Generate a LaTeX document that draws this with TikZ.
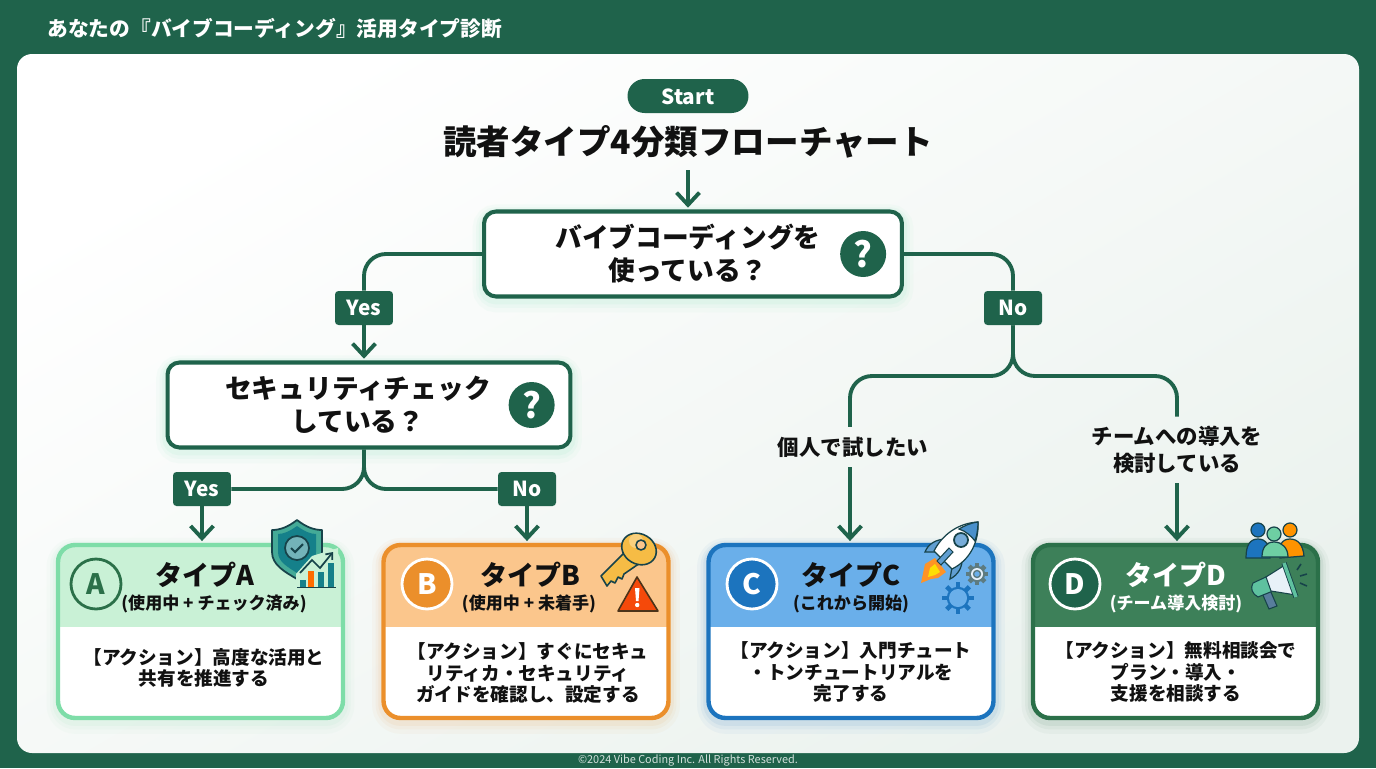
\documentclass[tikz,border=0pt]{standalone}
\usepackage{fontspec}
\setmainfont{Noto Sans CJK JP}
\usetikzlibrary{arrows.meta,calc,positioning}
\definecolor{deep}{HTML}{1F634B}
\definecolor{ink}{HTML}{111111}
\definecolor{panelend}{HTML}{EBF2EE}
\definecolor{glowg}{HTML}{5FE0A8}
\definecolor{bordera}{HTML}{7EDDA8}
\definecolor{heada}{HTML}{C9F1D6}
\definecolor{borderb}{HTML}{EB8F2B}
\definecolor{headb}{HTML}{FBC68C}
\definecolor{borderc}{HTML}{1C74BE}
\definecolor{headc}{HTML}{6AAFEA}
\definecolor{borderd}{HTML}{2B7049}
\definecolor{headd}{HTML}{3D8059}
\definecolor{outl}{HTML}{17434A}
\definecolor{teal}{HTML}{15808A}
\definecolor{gold}{HTML}{F6BC45}
\newcommand{\gearsize}{16}
\tikzset{
    >={Straight Barb[length=7pt,width=13pt,line width=2.2pt]},
    glow/.style={
           preaction={draw=#1, draw opacity=.04, line width=13pt, transform canvas={yshift=-2.5pt}},
           preaction={draw=#1, draw opacity=.05, line width=9pt, transform canvas={yshift=-2pt}},
           preaction={draw=#1, draw opacity=.07, line width=6pt, transform canvas={yshift=-1.5pt}}},
    qbox/.style={
           rectangle,
           rounded corners=.24cm,
           draw=deep, line width=2.3pt,
           fill=white,
           glow=glowg},
    qtext/.style={
           align=center,
           text=ink,
           font=\bfseries\fontsize{15.2}{18.8}\selectfont},
    qmark/.style={
           circle,
           fill=deep,
           minimum size=.92cm,
           inner sep=0pt,
           text=white,
           font=\bfseries\fontsize{20}{20}\selectfont},
    tagbox/.style={
           rectangle,
           rounded corners=.07cm,
           fill=deep,
           minimum width=1.16cm,
           minimum height=.68cm,
           inner sep=0pt,
           text=white,
           font=\bfseries\fontsize{11.8}{13}\selectfont},
    wire/.style={
           draw=deep,
           line width=2.2pt,
           rounded corners=.44cm},
    pil/.style={
           ->,
           draw=deep,
           line width=2.2pt,
           shorten >=1pt},
    side/.style={
           align=center,
           inner sep=0pt,
           outer sep=.2cm,
           text=ink,
           font=\bfseries\fontsize{12.2}{15}\selectfont},
    typecard/.style 2 args={
           rectangle,
           rounded corners=.34cm,
           draw=#1, line width=2.5pt,
           fill=white,
           minimum width=5.7cm,
           minimum height=3.46cm,
           glow=#1,
           path picture={\fill[#2, sharp corners] (path picture bounding box.north west) rectangle ([yshift=-1.64cm]path picture bounding box.north east);}},
    badge/.style 2 args={
           circle,
           fill=#1,
           draw=#2, line width=1.6pt,
           minimum size=1cm,
           inner sep=0pt,
           font=\bfseries\fontsize{16}{16}\selectfont},
    cardtitle/.style={
           font=\bfseries\fontsize{15.4}{18}\selectfont,
           inner sep=0pt,
           text=ink},
    cardsub/.style={
           font=\bfseries\fontsize{9.7}{11}\selectfont,
           inner sep=0pt,
           text=ink},
    cardbody/.style={
           align=center,
           inner sep=0pt,
           text=ink,
           font=\bfseries\fontsize{10.6}{12.4}\selectfont},
    iconline/.style={
           draw=outl,
           line width=.7pt,
           line join=round},
    pics/gearicon/.style={code={
           \foreach \a in {0,45,...,315}
               \draw[draw=#1, line width=2.6pt] (\a:.62*\gearsize) -- (\a:\gearsize);
           \draw[draw=#1, line width=1.5pt] (0,0) circle[radius=.62*\gearsize];
    }}
}
\begin{document}
\begin{tikzpicture}[x=.02cm, y=-.02cm]
    \useasboundingbox (0,0) rectangle (1376,768);
    \fill[deep] (0,0) rectangle (1376,768);
    \shade[rounded corners=.3cm, top color=white, bottom color=panelend, shading angle=30]
        (17,54) rectangle (1359,753);

    \node[text=white, anchor=west, inner sep=0pt, font=\bfseries\fontsize{11.8}{14}\selectfont] (head) at (47,28)
        {あなたの『バイブコーディング』活用タイプ診断};
    \node[text=white!80!deep, inner sep=0pt, font=\fontsize{6.2}{7}\selectfont] (foot) at (688,761)
        {©2024 Vibe Coding Inc. All Rights Reserved.};

    % top of the chart
    \node[rectangle, rounded corners=.34cm, fill=deep, minimum width=2.42cm, minimum height=.68cm, inner sep=0pt,
        text height=9.5pt, text depth=0pt,
        text=white, font=\bfseries\fontsize{11.8}{13}\selectfont] (start) at (688,96) {Start};
    \node[text=ink, inner sep=0pt, font=\bfseries\fontsize{19.1}{22}\selectfont] (title) at (688,142)
        {読者タイプ4分類フローチャート};

    \node[qbox, minimum width=8.36cm, minimum height=1.7cm] (q1) at (693,254) {};
    \node[qtext, xshift=-.1cm] (q1text) at (q1) {バイブコーディングを\\使っている？};
    \node[qmark, left=.35cm of q1.east] (q1mark) {?};

    \node[qbox, minimum width=8.06cm, minimum height=1.7cm] (q2) at (369,405) {};
    \node[qtext, xshift=-.22cm] (q2text) at (q2) {セキュリティチェック\\している？};
    \node[qmark, left=.35cm of q2.east] (q2mark) {?};

    \node[tagbox] (yes1) at (364,308) {Yes};
    \node[tagbox] (no1) at (1013,308) {No};
    \node[tagbox] (yes2) at (202,489) {Yes};
    \node[tagbox] (no2) at (527,489) {No};

    \node[side] (solo) at (853,447) {個人で試したい};
    \node[side] (team) at (1177,450) {チームへの導入を\\検討している};

    \node[typecard={bordera}{heada}] (carda) at (200.5,631.5) {};
    \node[typecard={borderb}{headb}] (cardb) at (526,631.5) {};
    \node[typecard={borderc}{headc}] (cardc) at (851,631.5) {};
    \node[typecard={borderd}{headd}] (cardd) at (1175.5,631.5) {};

    \coordinate (splita) at (364,489);
    \coordinate (splitb) at (1013,376);
    \coordinate (titlefoot) at (688,170);
    \coordinate (solox) at (850,447);

    \draw[pil] (titlefoot) -- (titlefoot |- q1.north);
    \draw[wire] (q1.west) -| (yes1.north);
    \draw[wire] (q1.east) -| (no1.north);
    \draw[pil] (yes1.south) -- (yes1 |- q2.north);

    \draw[wire] (splita |- q2.south) -- (splita) -- (yes2.east);
    \draw[wire] (splita |- q2.south) -- (splita) -- (no2.west);
    \draw[pil] (yes2.south) -- (yes2 |- carda.north);
    \draw[pil] (no2.south) -- (no2 |- cardb.north);

    \draw[wire] (no1.south) -- (splitb) -| (solox |- solo.north);
    \draw[wire] (no1.south) -- (splitb) -| (team.north);
    \draw[pil] (solox |- solo.south) -- (solox |- cardc.north);
    \draw[pil] (team.south) -- (team |- cardd.north);

    % type A
    \node[badge={heada}{borderd}, text=borderd] (mara) at (96,584) {A};
    \node[cardtitle] (titlea) at (205,575) {タイプA};
    \node[cardsub] (suba) at (214,604) {(使用中 + チェック済み)};
    \node[cardbody] (bodya) at (204,668) {【アクション】高度な活用と\\共有を推進する};

    % type B
    \node[badge={borderb}{white}, text=white] (marb) at (427,584) {B};
    \node[cardtitle] (titleb) at (530,575) {タイプB};
    \node[cardsub] (subb) at (529,604) {(使用中 + 未着手)};
    \node[cardbody] (bodyb) at (528,673) {【アクション】すぐにセキュ\\リティカ・セキュリティ\\ガイドを確認し、設定する};

    % type C
    \node[badge={borderc}{white}, text=white] (marc) at (752,584) {C};
    \node[cardtitle] (titlec) at (851,575) {タイプC};
    \node[cardsub] (subc) at (851,604) {(これから開始)};
    \node[cardbody] (bodyc) at (851,672) {【アクション】入門チュート\\・トンチュートリアルを\\完了する};

    % type D
    \node[badge={deep}{white}, text=white] (mard) at (1075,584) {D};
    \node[cardtitle, text=white] (titled) at (1176,575) {タイプD};
    \node[cardsub, text=white] (subd) at (1176,604) {(チーム導入検討)};
    \node[cardbody] (bodyd) at (1176,672) {【アクション】無料相談会で\\プラン・導入・\\支援を相談する};

    % shield and chart
    \draw[iconline, fill=teal!55!bordera, line width=1pt] (297,520) .. controls (288,527) and (280,530) .. (272,530) -- (272,552)
        .. controls (272,565) and (285,572) .. (297,579) .. controls (309,572) and (322,565) .. (322,552) -- (322,530)
        .. controls (314,530) and (306,527) .. cycle;
    \fill[teal] (297,526) .. controls (290,531) and (284,534) .. (278,534) -- (278,552)
        .. controls (278,562) and (288,567) .. (297,573) .. controls (306,567) and (316,562) .. (316,552) -- (316,534)
        .. controls (310,534) and (304,531) .. cycle;
    \draw[iconline, fill=teal!60!white, line width=1pt] (297,548) circle[radius=12];
    \draw[outl, line width=1.2pt] (291,548) -- (295,552) -- (303,544);
    \fill[heada] (296,588) -- (296,574) -- (312,556) -- (338,548) -- (338,590) -- cycle;
    \fill[teal] (300,580) rectangle (306,587);
    \fill[orange!85!red] (308,571) rectangle (314,587);
    \fill[teal] (318,572) rectangle (324,587);
    \fill[teal] (328,563) rectangle (334,587);
    \draw[outl, line width=1pt] (297,587.5) -- (336,587.5);
    \draw[outl, line width=1pt, -{Straight Barb[length=3pt,width=5pt]}] (300,573) -- (312,560) -- (320,568) -- (333,552);

    % key and warning
    \draw[iconline, fill=gold, line width=.9pt] (601,576) -- (625,552) -- (640,563) -- (624,574) -- (622,579) -- (618,577)
        -- (615,583) -- (611,581) -- (607,586) -- cycle;
    \draw[iconline, fill=gold, line width=.9pt] (639,549) circle[x radius=18, y radius=15, rotate=-30];
    \fill[gold!70!white] (636,541) circle[radius=7];
    \draw[iconline, fill=headb, line width=.9pt] (641,545) circle[radius=5];
    \draw[draw=black!60!brown, fill=red!50!orange!85!brown, line width=.9pt, line join=round] (637,577) -- (618,611) -- (658,611) -- cycle;
    \fill[white] (635,588) -- (639.5,588) -- (638.5,601) -- (636,601) -- cycle;
    \fill[white] (637.2,605) circle[radius=2.2];

    % rocket and gears
    \draw[outl, fill=borderc!70!white, line width=.7pt] (937,552) -- (925,552) .. controls (928,544) and (936,539) .. (947,539) -- cycle;
    \draw[outl, fill=borderc!70!white, line width=.7pt] (952,567) -- (950,579) .. controls (958,575) and (963,567) .. (962,557) -- cycle;
    \fill[orange!85!white] (921,583) -- (925,564) -- (935,558) -- (946,572) -- (938,578) -- (931,579) -- cycle;
    \fill[yellow!80!orange] (928,577) -- (930,568) -- (935,564) -- (940,572) -- (935,575) -- cycle;
    \draw[iconline, fill=white] (978,522) .. controls (958,523) and (942,535) .. (934,551) -- (952,569) .. controls (970,560) and (979,542) .. cycle;
    \draw[outl, fill=borderc!80!white, line width=.7pt] (978,522) .. controls (970,523) and (964,526) .. (959,529) .. controls (966,531) and (972,537) .. (975,541) .. controls (977,535) and (978,529) .. cycle;
    \draw[iconline, fill=borderc!60!white, line width=1pt] (961,540) circle[radius=7];
    \draw[outl, fill=borderc!70!white, line width=.6pt] (937,561) -- (949,548) -- (953,552) -- (941,565) -- cycle;
    \pic at (958,598) {gearicon=borderc};
    \fill[headc] (958,598) circle[radius=9];
    \renewcommand{\gearsize}{11}
    \pic at (977,574) {gearicon=outl!70!white};
    \fill[white!85!headc] (977,574) circle[radius=6];
    \draw[outl!70!white, fill=headc, line width=.8pt] (977,574) circle[radius=3.5];

    % people and megaphone
    \draw[outl, fill=borderc, line width=.7pt] (1246,558) .. controls (1246,545) and (1250,539) .. (1258,539) .. controls (1266,539) and (1270,545) .. (1270,558) -- cycle;
    \draw[outl, fill=borderc, line width=.7pt] (1258,530) circle[radius=7];
    \draw[outl, fill=orange!85!yellow, line width=.7pt] (1280,558) .. controls (1278,545) and (1282,539) .. (1290,539) .. controls (1298,539) and (1303,545) .. (1304,556) -- cycle;
    \draw[outl, fill=orange!85!yellow, line width=.7pt] (1290,530) circle[radius=7];
    \draw[outl, fill=bordera!85!teal, line width=.7pt] (1262,557) .. controls (1262,548) and (1266,542) .. (1274,542) .. controls (1282,542) and (1288,548) .. (1288,557) -- cycle;
    \draw[outl, fill=bordera!85!teal, line width=.7pt] (1274,534) circle[radius=7];

    \draw[outl, fill=borderc!60!black!70!white, line width=.6pt] (1262,593) -- (1270,590) -- (1277,606) -- (1269,609) -- cycle;
    \draw[outl, fill=bordera!70!teal, line width=.6pt] (1253,583) -- (1268,576) -- (1273,591) -- (1258,597) .. controls (1252,594) and (1250,588) .. cycle;
    \draw[outl, fill=white!90!borderc, line width=.6pt] (1266,577) -- (1285,565) -- (1296,595) -- (1271,591) -- cycle;
    \draw[outl, line width=3pt] (1284,563) -- (1296,597);
    \draw[bordera!70!teal, line width=2pt] (1284,563) -- (1296,597);
    \draw[outl, line width=.9pt] (1297,570) -- (1301,564);
    \draw[outl, line width=.9pt] (1300,576) -- (1307,574);
    \draw[outl, line width=.9pt] (1300,583) -- (1307,586);
\end{tikzpicture}
\end{document}
